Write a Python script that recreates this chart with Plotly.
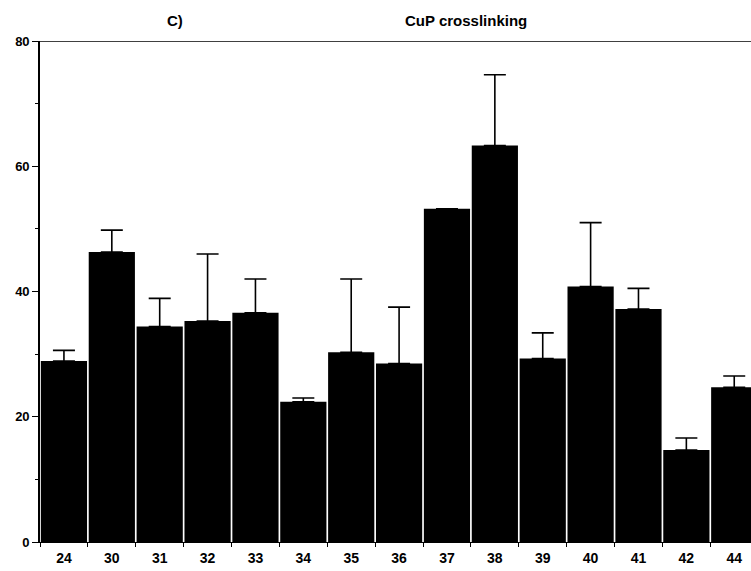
import plotly.graph_objects as go

categories = ["24", "30", "31", "32", "33", "34", "35", "36", "37", "38", "39", "40", "41", "42", "44"]
values = [28.9, 46.3, 34.4, 35.3, 36.6, 22.4, 30.3, 28.5, 53.2, 63.3, 29.3, 40.8, 37.2, 14.7, 24.7]
upper = [30.6, 49.8, 38.9, 46.0, 42.0, 23.0, 42.0, 37.5, 53.2, 74.6, 33.4, 51.0, 40.5, 16.6, 26.5]
err = [u - v for u, v in zip(upper, values)]
y_ticks = [0, 20, 40, 60, 80]

font = "Liberation Sans, Arial, sans-serif"

W, H = 751, 571
l, r, t, b = 40, 0, 41, 29
pw, ph = W - l - r, H - t - b

def px_x(px):
    return (px - l) / pw

def px_y(py):
    return (H - b - py) / ph

fig = go.Figure()
fig.add_trace(go.Bar(
    x=categories, y=values,
    marker=dict(color="black", line=dict(width=0)),
    error_y=dict(type="data", symmetric=False, array=err, arrayminus=[0] * len(err),
                 color="black", thickness=1.6, width=11),
))

fig.update_layout(
    width=W, height=H,
    margin=dict(l=l, r=r, t=t, b=b, autoexpand=False),
    plot_bgcolor="white", paper_bgcolor="white",
    bargap=0.035, showlegend=False,
    font=dict(family=font, color="black"),
    xaxis=dict(type="category", range=[-0.5, 14.35], tickson="boundaries",
               ticks="outside", ticklen=4, tickwidth=1.2, tickcolor="black",
               showline=True, linecolor="black", linewidth=1.2, showgrid=False,
               automargin=False, ticklabelstandoff=3,
               tickfont=dict(size=14, family=font, weight="bold")),
    yaxis=dict(range=[0, 80], tickvals=y_ticks, ticks="outside", ticklen=6, tickwidth=1.2,
               tickcolor="black", showline=True, linecolor="black", linewidth=1.6,
               showgrid=False, zeroline=False, automargin=False,
               minor=dict(dtick=10, ticks="outside", ticklen=3, tickcolor="black"),
               tickfont=dict(size=13, family=font, weight="bold")),
    shapes=[dict(type="line", xref="paper", yref="y", x0=0, x1=1, y0=80, y1=80,
                 line=dict(color="black", width=1.6))],
    annotations=[
        dict(text="<b>C)</b>", x=px_x(175), y=px_y(20), xref="paper", yref="paper",
             showarrow=False, xanchor="center", yanchor="middle",
             font=dict(size=15, family=font)),
        dict(text="<b>CuP crosslinking</b>", x=px_x(466), y=px_y(20), xref="paper",
             yref="paper", showarrow=False, xanchor="center", yanchor="middle",
             font=dict(size=15, family=font)),
    ],
)

fig.write_html("out.html", config={"displayModeBar": False},
               post_script="document.body.style.margin='0';")
